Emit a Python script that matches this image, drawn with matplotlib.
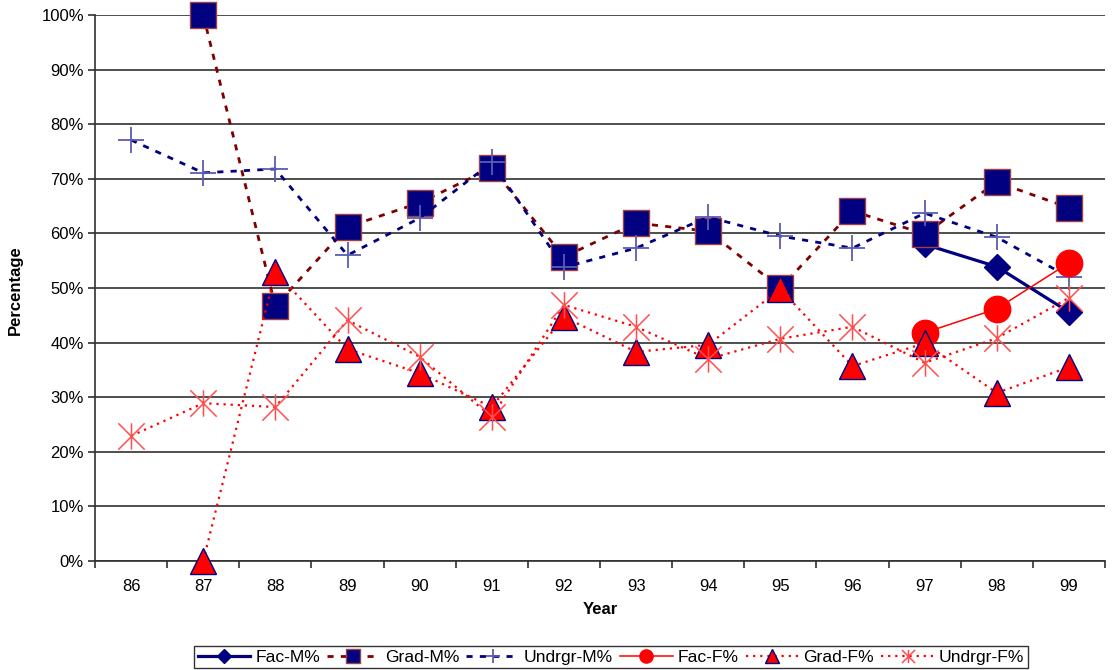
import numpy as np
import matplotlib
matplotlib.use("Agg")
import matplotlib.pyplot as plt
from matplotlib.path import Path
from matplotlib.ticker import FixedLocator, PercentFormatter

plt.rcParams['font.family'] = ['Liberation Sans', 'DejaVu Sans']

years = ['86', '87', '88', '89', '90', '91', '92', '93', '94', '95', '96', '97', '98', '99']
nan = np.nan
fac_m = [nan, nan, nan, nan, nan, nan, nan, nan, nan, nan, nan, 58.0, 53.9, 45.6]
grad_m = [nan, 100.0, 46.7, 61.2, 65.6, 72.0, 55.7, 61.9, 60.4, 50.0, 64.1, 59.9, 69.4, 64.7]
undrgr_m = [77.1, 71.1, 71.8, 56.0, 62.8, 73.0, 53.8, 57.3, 63.0, 59.5, 57.3, 63.7, 59.3, 52.0]
fac_f = [nan, nan, nan, nan, nan, nan, nan, nan, nan, nan, nan, 41.8, 46.2, 54.6]
grad_f = [nan, 0.0, 53.0, 38.8, 34.4, 28.2, 44.7, 38.3, 39.6, 49.8, 35.7, 39.9, 30.8, 35.5]
undrgr_f = [22.9, 28.9, 28.2, 44.1, 37.4, 26.4, 46.9, 42.9, 37.0, 40.7, 42.9, 36.3, 40.8, 48.2]

navy = '#000080'
dred = '#800000'
red = '#ff0000'

fig = plt.figure(figsize=(11.12, 6.70), dpi=100)
ax = fig.add_axes([95 / 1112, 1 - 561 / 670, 1010 / 1112, 546 / 670])

x = np.arange(len(years))

star = Path([(-1, -1), (1, 1), (-1, 1), (1, -1), (0, -1), (0, 1)],
            [Path.MOVETO, Path.LINETO, Path.MOVETO, Path.LINETO, Path.MOVETO, Path.LINETO])

ax.plot(x, fac_m, color=navy, lw=2.3, ls='-', marker='D', ms=13.5,
        mfc=navy, mec=navy, label='Fac-M%', zorder=3, clip_on=False)
ax.plot(x, grad_m, color=dred, lw=2.0, ls=(0, (2.2, 2.6)), marker='s', ms=19,
        mfc=navy, mec='#a04040', mew=1.0, label='Grad-M%', zorder=4, clip_on=False)
ax.plot(x, undrgr_m, color=navy, lw=2.0, ls=(0, (2.2, 2.6)), marker='+', ms=19,
        mec='#5c5cb0', mew=1.3, label='Undrgr-M%', zorder=5, clip_on=False)
ax.plot(x, fac_f, color=red, lw=1.1, ls='-', marker='o', ms=19,
        mfc=red, mec=red, label='Fac-F%', zorder=6, clip_on=False)
ax.plot(x, grad_f, color=red, lw=1.6, ls=(0, (1, 2.2)), marker='^', ms=19,
        mfc=red, mec=navy, mew=1.0, label='Grad-F%', zorder=7, clip_on=False)
ax.plot(x, undrgr_f, color=red, lw=1.6, ls=(0, (1, 2.2)), marker=star, ms=19,
        mec='#ff5050', mew=1.1, label='Undrgr-F%', zorder=8, clip_on=False)

ax.set_xlim(-0.5, len(years) - 0.5)
ax.set_ylim(0, 100)
ax.set_xticks(x)
ax.set_xticklabels(years, fontsize=12)
ax.xaxis.set_minor_locator(FixedLocator(np.arange(-0.5, len(years), 1.0)))
ax.tick_params(axis='x', which='major', length=0, pad=13)
ax.tick_params(axis='x', which='minor', length=5, width=1.2, direction='out', color='#303030')
ax.set_yticks(np.arange(0, 101, 10))
ax.yaxis.set_major_formatter(PercentFormatter(decimals=0))
ax.tick_params(axis='y', length=5, width=1.2, direction='out', labelsize=12, color='#303030', pad=3)

ax.grid(axis='y', color='#303030', lw=1.2, zorder=0)
ax.set_axisbelow(True)
for s in ['top', 'right']:
    ax.spines[s].set_visible(False)
for s in ['left', 'bottom']:
    ax.spines[s].set_color('#303030')
    ax.spines[s].set_linewidth(1.2)

ax.set_xlabel('Year', fontsize=12, fontweight='bold', labelpad=6)
fig.text(15 / 1112, 1 - 290 / 670, 'Percentage', rotation=90, fontsize=12,
         fontweight='bold', ha='center', va='center')

leg = fig.legend(loc='center', bbox_to_anchor=(611 / 1112, 1 - 657 / 670), ncol=6,
                 frameon=True, fancybox=False, edgecolor='black', fontsize=12.6,
                 handlelength=3.0, handletextpad=0.3, columnspacing=0.4,
                 borderpad=0.2, borderaxespad=0.0, markerscale=0.5)
leg.get_frame().set_linewidth(1.0)

fig.savefig('out.png', dpi=100)
